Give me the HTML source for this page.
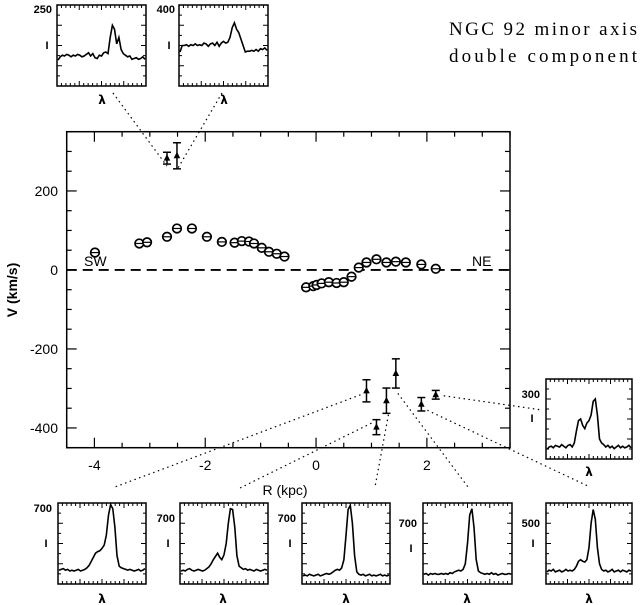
<!DOCTYPE html>
<html><head><meta charset="utf-8"><style>
body{margin:0;background:#fff;}
svg{display:block;font-family:"Liberation Sans",sans-serif;}
</style></head><body>
<svg id="c" width="640" height="605" viewBox="0 0 640 605">
<text x="449" y="35" font-family="Liberation Serif,serif" font-size="19" textLength="188" lengthAdjust="spacing">NGC 92 minor axis</text>
<text x="449" y="62" font-family="Liberation Serif,serif" font-size="19" textLength="188" lengthAdjust="spacing">double component</text>
<g id="main"></g>
<g id="insets"></g>
</svg>
<script>
// main plot data
const circR=[-3.99,-3.19,-3.05,-2.69,-2.51,-2.24,-1.97,-1.70,-1.47,-1.34,-1.21,-1.12,-0.98,-0.85,-0.71,-0.57,-0.18,-0.05,0.01,0.10,0.23,0.37,0.50,0.64,0.77,0.91,1.09,1.27,1.44,1.62,1.90,2.16];
const circV=[44,67,70,84,105,105,84,71,69,73,72,67,56,46,41,34,-44,-41,-38,-34,-31,-33,-31,-17,6,19,27,19,21,19,14,3];
const circErr=[4,3,3,6,9,6,5,4,3,3,3,3,3,3,3,3,3,3,3,3,3,3,3,3,3,3,3,3,3,3,3,3];
const triR=[-2.69,-2.51,0.91,1.09,1.27,1.44,1.90,2.16];
const triV=[283,289,-306,-398,-331,-262,-340,-316];
const triErr=[15,33,28,19,32,37,17,11];
const xTicks=[-4,-2,0,2];
const yTicks=[-400,-200,0,200];

const NS="http://www.w3.org/2000/svg";
function mk(t,a,p){const e=document.createElementNS(NS,t);for(const k in a)e.setAttribute(k,a[k]);(p||document.getElementById('main')).appendChild(e);return e;}
const X0=66.7,X1=510,Y0=131.7,Y1=447.7,xmin=-4.5,xmax=3.5,ymin=-450,ymax=350;
const sx=v=>X0+(v-xmin)/(xmax-xmin)*(X1-X0);
const sy=v=>Y1-(v-ymin)/(ymax-ymin)*(Y1-Y0);

let f=mk('rect',{x:X0,y:Y0,width:X1-X0,height:Y1-Y0,fill:'none',stroke:'#000','stroke-width':1.5});

for(let v=-4.5;v<=3.5001;v+=0.5){const maj=Math.abs(v-Math.round(v/2)*2)<1e-6;const L=maj?10:5;
 let t=mk('line',{x1:sx(v),x2:sx(v),y1:Y1,y2:Y1-L,stroke:'#000','stroke-width':1.2});
 
 t=mk('line',{x1:sx(v),x2:sx(v),y1:Y0,y2:Y0+L,stroke:'#000','stroke-width':1.2});
 }
for(let v=-450;v<=350;v+=50){const maj=v%200===0;const L=maj?10:5;
 let t=mk('line',{x1:X0,x2:X0+L,y1:sy(v),y2:sy(v),stroke:'#000','stroke-width':1.2});
 
 t=mk('line',{x1:X1,x2:X1-L,y1:sy(v),y2:sy(v),stroke:'#000','stroke-width':1.2});
 }
xTicks.forEach(v=>{const t=mk('text',{x:sx(v),y:470,'text-anchor':'middle','font-size':14});t.textContent=v;
 });
yTicks.forEach(v=>{const t=mk('text',{x:58,y:sy(v)+5,'text-anchor':'end','font-size':14});t.textContent=v;
 });
let tt=mk('text',{x:285,y:495,'text-anchor':'middle','font-size':14});tt.textContent='R (kpc)';

tt=mk('text',{x:0,y:0,'text-anchor':'middle','font-size':14,'font-weight':'bold',transform:'translate(17,290) rotate(-90)'});tt.textContent='V (km/s)';

tt=mk('text',{x:84,y:266,'font-size':14});tt.textContent='SW';
tt=mk('text',{x:472,y:266,'font-size':14});tt.textContent='NE';
let dl=mk('line',{x1:X0,x2:X1,y1:sy(0),y2:sy(0),stroke:'#000','stroke-width':1.8,'stroke-dasharray':'10 6'});


circR.forEach((r,i)=>{const cx=sx(r),cy=sy(circV[i]);
 const g=mk('g',{});
 mk('circle',{cx,cy,r:4.3,fill:'#fff',stroke:'#000','stroke-width':1.7},g);
 mk('line',{x1:cx-4,x2:cx+4,y1:cy,y2:cy,stroke:'#000','stroke-width':1.2},g);
 const e=circErr[i]*0.395;if(e>4.5){mk('line',{x1:cx,x2:cx,y1:cy-e,y2:cy+e,stroke:'#000','stroke-width':1.2},g);
 mk('line',{x1:cx-4,x2:cx+4,y1:cy-e,y2:cy-e,stroke:'#000','stroke-width':1.2},g);mk('line',{x1:cx-4,x2:cx+4,y1:cy+e,y2:cy+e,stroke:'#000','stroke-width':1.2},g);}
});
triR.forEach((r,i)=>{const cx=sx(r),cy=sy(triV[i]),e=triErr[i]*0.395;
 const g=mk('g',{});
 mk('line',{x1:cx,x2:cx,y1:cy-e,y2:cy+e,stroke:'#000','stroke-width':1.5},g);
 mk('line',{x1:cx-4,x2:cx+4,y1:cy-e,y2:cy-e,stroke:'#000','stroke-width':1.5},g);
 mk('line',{x1:cx-4,x2:cx+4,y1:cy+e,y2:cy+e,stroke:'#000','stroke-width':1.5},g);
 mk('path',{d:`M${cx},${cy-4}L${cx+3.3},${cy+2.5}L${cx-3.3},${cy+2.5}Z`,fill:'#000'},g);
});

// spectra (normalized intensities, 41 samples each)
const specTop1=[.32,.36,.38,.37,.39,.38,.36,.38,.37,.39,.38,.36,.37,.39,.41,.37,.4,.35,.34,.38,.37,.41,.42,.4,.6,.75,.7,.52,.6,.45,.4,.38,.36,.37,.33,.34,.35,.33,.34,.36,.33];
const specTop2=[.42,.5,.5,.51,.49,.51,.5,.52,.5,.51,.5,.53,.52,.49,.52,.53,.5,.54,.49,.53,.55,.53,.54,.6,.72,.78,.7,.66,.58,.5,.42,.43,.43,.44,.43,.45,.43,.46,.45,.47,.44];
const specB1=[.17,.18,.19,.17,.18,.16,.17,.16,.17,.18,.16,.17,.18,.2,.23,.28,.33,.38,.4,.41,.44,.48,.6,.85,.98,.93,.7,.35,.22,.2,.19,.18,.17,.18,.17,.16,.17,.18,.16,.17,.19];
const specB2=[.16,.17,.16,.18,.19,.17,.16,.17,.18,.17,.16,.17,.19,.21,.25,.3,.34,.38,.33,.3,.36,.5,.75,.93,.92,.7,.35,.22,.2,.18,.19,.17,.18,.17,.16,.18,.17,.16,.17,.18,.17];
const specB3=[.1,.11,.1,.12,.11,.1,.11,.12,.1,.11,.12,.13,.12,.13,.15,.17,.18,.17,.2,.3,.6,.92,.97,.75,.35,.15,.12,.11,.12,.1,.11,.12,.1,.11,.1,.11,.12,.1,.11,.1,.11];
const specB4=[.12,.13,.11,.13,.12,.13,.12,.12,.13,.12,.13,.12,.14,.13,.15,.16,.17,.16,.18,.25,.5,.85,.93,.7,.3,.16,.14,.13,.12,.13,.12,.14,.12,.13,.11,.12,.13,.12,.12,.13,.12];
const specB5=[.15,.17,.16,.18,.15,.16,.17,.15,.16,.18,.16,.17,.16,.18,.22,.28,.3,.28,.27,.3,.45,.75,.92,.8,.45,.25,.18,.16,.17,.15,.16,.18,.15,.16,.17,.15,.17,.16,.15,.17,.16];
const specR=[.12,.15,.16,.14,.17,.16,.15,.18,.16,.14,.17,.18,.15,.2,.35,.48,.5,.42,.38,.45,.48,.55,.72,.75,.55,.25,.2,.18,.15,.17,.14,.16,.13,.15,.17,.14,.16,.14,.15,.17,.14];
const specLabels=['250','400','700','700','700','700','500','300'];

const ins=document.getElementById('insets');
function mk2(t,a,p){return mk(t,a,p||ins);}
function inset(x,y,w,h,data,name,lab,lx,ly,Ix,Iy,lamx,lamy){
 const g=mk2('g',{});
 mk2('rect',{x,y,width:w,height:h,fill:'#fff',stroke:'#000','stroke-width':1.5},g);
 for(let i=1;i<20;i++){const xx=x+w*i/20,L=i%5===0?5:3;
  mk2('line',{x1:xx,x2:xx,y1:y+h,y2:y+h-L,stroke:'#000','stroke-width':1},g);
  mk2('line',{x1:xx,x2:xx,y1:y,y2:y+L,stroke:'#000','stroke-width':1},g);}
 for(let i=1;i<8;i++){const yy=y+h*i/8,L=i%2===0?5:3;
  mk2('line',{x1:x,x2:x+L,y1:yy,y2:yy,stroke:'#000','stroke-width':1},g);
  mk2('line',{x1:x+w,x2:x+w-L,y1:yy,y2:yy,stroke:'#000','stroke-width':1},g);}
 const pts=data.map((v,i)=>`${(x+1+(w-2)*i/(data.length-1)).toFixed(1)},${(y+h-v*h).toFixed(1)}`).join(' ');
 mk2('polyline',{points:pts,fill:'none',stroke:'#000','stroke-width':1.6},g);
 let t=mk2('text',{x:lx,y:ly,'text-anchor':'end','font-size':11,'font-weight':'bold'},g);t.textContent=lab;
 
 t=mk2('text',{x:Ix,y:Iy,'text-anchor':'middle','font-size':11,'font-weight':'bold'},g);t.textContent='I';
 
 t=mk2('text',{x:lamx,y:lamy,'text-anchor':'middle','font-size':12,'font-weight':'bold','font-family':'DejaVu Sans,sans-serif'},g);t.textContent='λ';
 
}
const conns=[[113,93,sx(-2.69),sy(283)+8],[222,93,sx(-2.51),sy(289)+14],
 [sx(0.91)-6,sy(-306)+4,115,487],[sx(1.09)-5,sy(-398)-4,238,489],[sx(1.27)+2,sy(-331)+14,375,487],
 [sx(1.44)+2,sy(-262)+20,468,487],[sx(1.90)+6,sy(-340)+6,590,487],[sx(2.16)+8,sy(-316)+1,542,410]];
conns.forEach(c=>{const l=mk2('line',{x1:c[0],y1:c[1],x2:c[2],y2:c[3],stroke:'#000','stroke-width':1.2,'stroke-dasharray':'1.5 3.5'});
 });
inset(57,5,89,81,specTop1,'spectrum-inset-top-1',specLabels[0],52,13,47,49,102,104);
inset(179,5,89,81,specTop2,'spectrum-inset-top-2',specLabels[1],175,13,169,49,224,104);
inset(58,503,88,81,specB1,'spectrum-inset-bottom-1',specLabels[2],52,512,46,547,102,603);
inset(180,503,88,81,specB2,'spectrum-inset-bottom-2',specLabels[3],175,522,168,547,223,603);
inset(302,503,88,81,specB3,'spectrum-inset-bottom-3',specLabels[4],296,522,290,547,346,603);
inset(423,503,89,81,specB4,'spectrum-inset-bottom-4',specLabels[5],417,527,411,552,467,603);
inset(546,503,86,81,specB5,'spectrum-inset-bottom-5',specLabels[6],540,527,533,547,589,603);
inset(546,379,86,80,specR,'spectrum-inset-right',specLabels[7],540,398,532,422,589,476);
</script>
</body></html>
